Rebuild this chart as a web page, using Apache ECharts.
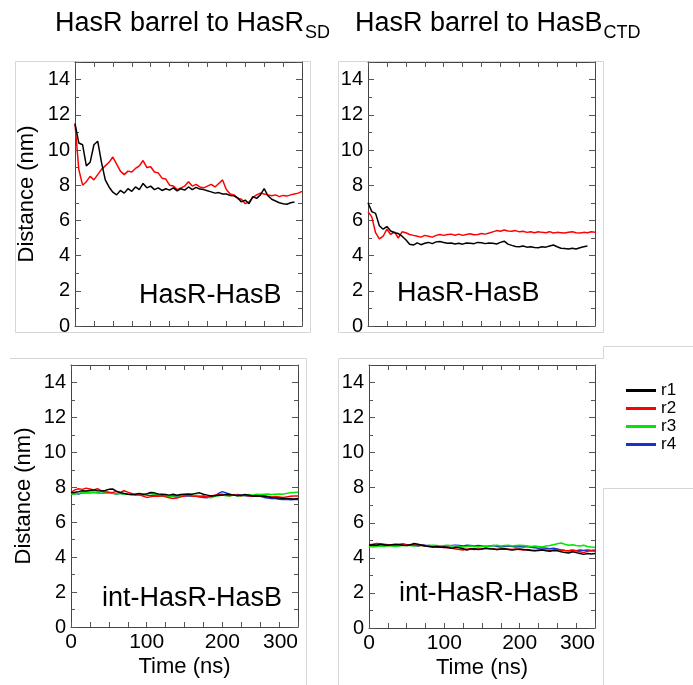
<!DOCTYPE html>
<html>
<head>
<meta charset="utf-8">
<script src="https://cdn.jsdelivr.net/npm/echarts@6/dist/echarts.min.js"></script>
<style>
html, body { margin: 0; padding: 0; background: #fff; }
#chart { width: 693px; height: 685px; }
</style>
</head>
<body>
<div id="chart"></div>
<script>
// time axis (ns), one point every 5 ns
const timeNs = [
  0, 5, 10, 15, 20, 25, 30, 35, 40, 45,
  50, 55, 60, 65, 70, 75, 80, 85, 90, 95,
  100, 105, 110, 115, 120, 125, 130, 135, 140, 145,
  150, 155, 160, 165, 170, 175, 180, 185, 190, 195,
  200, 205, 210, 215, 220, 225, 230, 235, 240, 245,
  250, 255, 260, 265, 270, 275, 280, 285, 290, 295,
  300
];

const runNames = ['r1', 'r2', 'r3', 'r4'];
const xTickLabels = [0, 100, 200, 300];

const panelTitles = ['HasR barrel to HasR', 'HasR barrel to HasB'];
const panelSubs = ['SD', 'CTD'];
const panelLabels = ['HasR-HasB', 'HasR-HasB', 'int-HasR-HasB', 'int-HasR-HasB'];

// HasR barrel to HasR_SD, HasR-HasB
const sdR1 = [
  11.5, 10.4, 10.3, 9.1, 9.3, 10.3, 10.5, 9.3, 8.3, 7.9,
  7.6, 7.45, 7.7, 7.55, 7.8, 7.65, 7.9, 7.75, 8.1, 7.85,
  7.95, 7.75, 7.85, 7.7, 7.8, 7.72, 7.85, 7.68, 7.8, 7.72,
  7.9, 7.75, 7.88, 7.78, 7.75, 7.68, 7.62, 7.55, 7.58, 7.5,
  7.5, 7.42, 7.4, 7.28, 7.05, 7.15, 6.95, 7.35, 7.25, 7.45,
  7.8, 7.4, 7.2, 7.1, 7.0, 6.95, 6.92, 7.0, 7.05, null,
  null
];
const sdR2 = [
  11.5, 8.9, 8.0, 8.2, 8.5, 8.3, 8.6, 8.9, 9.1, 9.3,
  9.6, 9.2, 8.8, 8.6, 8.8, 8.75, 8.95, 9.1, 9.4, 9.0,
  9.05, 8.75, 8.7, 8.4, 8.35, 8.0, 7.95, 7.75, 7.85, 7.95,
  8.2, 7.95, 8.05, 7.9, 7.85, 7.95, 8.05, 7.9, 8.1, 8.3,
  7.75, 7.5, 7.45, 7.25, 7.2, 6.95, 7.05, 7.3, 7.45, 7.55,
  7.5, 7.45, 7.4, 7.45, 7.35, 7.42, 7.38, 7.45, 7.5, 7.55,
  7.65
];

// HasR barrel to HasB_CTD, HasR-HasB
const ctdR1 = [
  7.0, 6.5, 6.4, 5.7, 5.5, 5.65, 5.4, 5.3, 5.25, 5.1,
  4.9, 4.65, 4.6, 4.72, 4.62, 4.7, 4.75, 4.68, 4.78, 4.8,
  4.75, 4.7, 4.72, 4.66, 4.7, 4.65, 4.72, 4.7, 4.68, 4.75,
  4.73, 4.68, 4.72, 4.7, 4.66, 4.75, 4.82, 4.65, 4.58, 4.52,
  4.5, 4.54, 4.48, 4.5, 4.46, 4.45, 4.5, 4.48, 4.55, 4.6,
  4.5, 4.42, 4.4, 4.38, 4.42, 4.38, 4.45, 4.5, 4.55, null,
  null
];
const ctdR2 = [
  6.5, 6.2, 5.3, 4.95, 5.1, 5.5, 5.2, 5.35, 5.0, 5.35,
  5.3, 5.2, 5.15, 5.1, 5.05, 5.15, 5.1, 5.05, 5.15, 5.2,
  5.15, 5.2, 5.22, 5.16, 5.22, 5.15, 5.2, 5.24, 5.18, 5.2,
  5.25, 5.22, 5.28, 5.35, 5.42, 5.38, 5.45, 5.4, 5.38, 5.42,
  5.35, 5.38, 5.32, 5.36, 5.3, 5.35, 5.32, 5.3, 5.36, 5.28,
  5.32, 5.3, 5.28, 5.33, 5.35, 5.3, 5.28, 5.32, 5.3, 5.35,
  5.33
];

// HasR barrel to HasR_SD, int-HasR-HasB
const intSdR1 = [
  7.70, 7.72, 7.75, 7.80, 7.78, 7.82, 7.85, 7.80, 7.78, 7.82,
  7.88, 7.90, 7.78, 7.70, 7.65, 7.60, 7.58, 7.60, 7.65, 7.60,
  7.62, 7.70, 7.68, 7.62, 7.60, 7.58, 7.55, 7.60, 7.55, 7.58,
  7.60, 7.62, 7.60, 7.65, 7.68, 7.60, 7.55, 7.50, 7.52, 7.55,
  7.55, 7.60, 7.58, 7.55, 7.52, 7.55, 7.58, 7.55, 7.50, 7.52,
  7.50, 7.48, 7.45, 7.42, 7.40, 7.38, 7.36, 7.35, 7.34, 7.33,
  7.35
];
const intSdR2 = [
  7.70, 7.85, 7.92, 7.88, 7.95, 7.90, 7.85, 7.92, 7.80, 7.75,
  7.72, 7.70, 7.75, 7.70, 7.80, 7.72, 7.65, 7.55, 7.58, 7.50,
  7.42, 7.45, 7.50, 7.48, 7.52, 7.45, 7.40, 7.35, 7.38, 7.45,
  7.50, 7.55, 7.50, 7.48, 7.45, 7.50, 7.45, 7.50, 7.55, 7.58,
  7.60, 7.55, 7.52, 7.58, 7.55, 7.52, 7.55, 7.50, 7.52, 7.48,
  7.50, 7.52, 7.48, 7.45, 7.47, 7.45, 7.42, 7.45, 7.48, 7.50,
  7.50
];
const intSdR3 = [
  7.60, 7.62, 7.65, 7.68, 7.70, 7.72, 7.70, 7.68, 7.65, 7.68,
  7.70, 7.65, 7.62, 7.65, 7.60, 7.62, 7.58, 7.55, 7.60, 7.58,
  7.62, 7.65, 7.60, 7.55, 7.50, 7.48, 7.50, 7.45, 7.42, 7.48,
  7.52, 7.55, 7.50, 7.55, 7.52, 7.48, 7.45, 7.40, 7.48, 7.52,
  7.55, 7.52, 7.50, 7.55, 7.52, 7.50, 7.55, 7.58, 7.55, 7.60,
  7.58, 7.60, 7.62, 7.58, 7.60, 7.62, 7.60, 7.65, 7.68, 7.70,
  7.72
];
const intSdR4 = [
  7.62, 7.65, 7.62, 7.68, 7.70, 7.68, 7.72, 7.68, 7.65, 7.68,
  7.70, 7.65, 7.62, 7.65, 7.62, 7.60, 7.58, 7.60, 7.55, 7.58,
  7.55, 7.52, 7.55, 7.50, 7.52, 7.50, 7.48, 7.50, 7.52, 7.50,
  7.52, 7.50, 7.48, 7.50, 7.45, 7.42, 7.40, 7.45, 7.50, 7.65,
  7.75, 7.68, 7.60, 7.55, 7.58, 7.55, 7.52, 7.50, 7.48, 7.50,
  7.48, 7.42, 7.38, 7.35, 7.36, 7.32, 7.30, 7.32, 7.28, 7.30,
  7.30
];

// HasR barrel to HasB_CTD, int-HasR-HasB
const intCtdR1 = [
  4.72, 4.75, 4.72, 4.78, 4.75, 4.72, 4.75, 4.78, 4.75, 4.72,
  4.70, 4.75, 4.82, 4.78, 4.72, 4.68, 4.65, 4.62, 4.65, 4.60,
  4.62, 4.58, 4.55, 4.60, 4.58, 4.52, 4.45, 4.50, 4.52, 4.48,
  4.50, 4.55, 4.52, 4.50, 4.48, 4.50, 4.52, 4.48, 4.45, 4.48,
  4.50, 4.48, 4.45, 4.42, 4.40, 4.42, 4.45, 4.40, 4.38, 4.42,
  4.40, 4.35, 4.30, 4.28, 4.35, 4.30, 4.25, 4.20, 4.25, 4.22,
  4.25
];
const intCtdR2 = [
  4.75, 4.78, 4.82, 4.80, 4.78, 4.75, 4.72, 4.75, 4.78, 4.80,
  4.75, 4.72, 4.75, 4.70, 4.72, 4.68, 4.65, 4.62, 4.60, 4.62,
  4.58, 4.60, 4.55, 4.50, 4.48, 4.45, 4.50, 4.52, 4.48, 4.50,
  4.52, 4.55, 4.52, 4.50, 4.48, 4.50, 4.52, 4.50, 4.48, 4.50,
  4.48, 4.45, 4.48, 4.45, 4.42, 4.45, 4.48, 4.45, 4.42, 4.45,
  4.48, 4.45, 4.42, 4.40, 4.45, 4.40, 4.35, 4.30, 4.38, 4.40,
  4.38
];
const intCtdR3 = [
  4.65, 4.62, 4.65, 4.68, 4.65, 4.70, 4.68, 4.65, 4.68, 4.70,
  4.72, 4.70, 4.68, 4.72, 4.70, 4.68, 4.70, 4.72, 4.70, 4.68,
  4.70, 4.72, 4.68, 4.70, 4.65, 4.62, 4.65, 4.68, 4.65, 4.62,
  4.65, 4.68, 4.65, 4.70, 4.72, 4.68, 4.70, 4.72, 4.68, 4.70,
  4.72, 4.70, 4.68, 4.65, 4.68, 4.65, 4.62, 4.68, 4.70, 4.75,
  4.80, 4.85, 4.78, 4.72, 4.75, 4.70, 4.68, 4.72, 4.65, 4.62,
  4.60
];
const intCtdR4 = [
  4.70, 4.72, 4.70, 4.75, 4.72, 4.70, 4.72, 4.75, 4.72, 4.75,
  4.75, 4.72, 4.70, 4.68, 4.75, 4.72, 4.70, 4.68, 4.65, 4.67,
  4.65, 4.68, 4.70, 4.72, 4.70, 4.68, 4.72, 4.70, 4.68, 4.70,
  4.68, 4.65, 4.68, 4.70, 4.65, 4.62, 4.65, 4.68, 4.65, 4.62,
  4.65, 4.62, 4.65, 4.60, 4.58, 4.55, 4.58, 4.55, 4.52, 4.55,
  4.50, 4.45, 4.42, 4.40, 4.42, 4.40, 4.45, 4.42, 4.45, 4.42,
  4.45
];

const panelData = [
  [sdR1, sdR2],
  [ctdR1, ctdR2],
  [intSdR1, intSdR2, intSdR3, intSdR4],
  [intCtdR1, intCtdR2, intCtdR3, intCtdR4]
];

const runColors = ['#000000', '#ff0000', '#00e600', '#1a2fd0'];
const FONT = '"Liberation Sans", Arial, Helvetica, sans-serif';

// plot boxes in pixels
const boxes = [
  { left: 75, top: 62, width: 227, height: 264 },
  { left: 368, top: 62, width: 227, height: 264 },
  { left: 71, top: 365, width: 227, height: 262 },
  { left: 369, top: 365, width: 226, height: 263 }
];

function makeXAxes(gi, bottomRow) {
  var base = {
    type: 'value', gridIndex: gi, min: 0, max: 300, interval: 25,
    axisLine: { show: true, onZero: false, lineStyle: { color: '#444', width: 1 } },
    axisTick: { show: true, inside: true, length: 5, lineStyle: { color: '#555' } },
    splitLine: { show: false }
  };
  var bottom = Object.assign({}, base, {
    position: 'bottom',
    axisLabel: {
      show: bottomRow, margin: 5, fontSize: 21, color: '#000', fontFamily: FONT,
      alignMaxLabel: 'right',
      formatter: function (v) { return xTickLabels.indexOf(v) >= 0 ? String(v) : ''; }
    },
    name: bottomRow ? 'Time (ns)' : '',
    nameLocation: 'middle', nameGap: 29,
    nameTextStyle: { fontSize: 22, color: '#000', fontFamily: FONT }
  });
  var top = Object.assign({}, base, { position: 'top', axisLabel: { show: false } });
  return [bottom, top];
}

function makeYAxes(gi, leftCol) {
  var base = {
    type: 'value', gridIndex: gi, min: 0, max: 15, interval: 2,
    axisLine: { show: true, onZero: false, lineStyle: { color: '#444', width: 1 } },
    axisTick: { show: true, inside: true, length: 6, lineStyle: { color: '#555' } },
    minorTick: { show: true, splitNumber: 2, length: 4, lineStyle: { color: '#555' } },
    splitLine: { show: false },
    minorSplitLine: { show: false }
  };
  var left = Object.assign({}, base, {
    position: 'left',
    axisLabel: { margin: 5, fontSize: 20, color: '#000', fontFamily: FONT, showMaxLabel: false },
    name: leftCol ? 'Distance (nm)' : '',
    nameLocation: 'middle', nameGap: gi === 0 ? 37 : 36,
    nameTextStyle: { fontSize: 22, color: '#000', fontFamily: FONT }
  });
  var right = Object.assign({}, base, { position: 'right', axisLabel: { show: false } });
  return [left, right];
}

var grids = [], xAxes = [], yAxes = [], series = [];
boxes.forEach(function (b, gi) {
  grids.push(Object.assign({ outerBoundsMode: 'none', containLabel: false }, b));
  xAxes = xAxes.concat(makeXAxes(gi, gi >= 2));
  yAxes = yAxes.concat(makeYAxes(gi, gi % 2 === 0));
  panelData[gi].forEach(function (vals, ri) {
    series.push({
      name: runNames[ri],
      type: 'line',
      xAxisIndex: gi * 2,
      yAxisIndex: gi * 2,
      showSymbol: false,
      symbol: 'none',
      lineStyle: { width: 1.5, color: runColors[ri] },
      itemStyle: { color: runColors[ri] },
      data: timeNs.map(function (t, i) { return [t, vals[i]]; }),
      z: 10 - ri
    });
  });
});

// text width helper for the subscript titles
var mctx = document.createElement('canvas').getContext('2d');
function textWidth(str, size) {
  mctx.font = size + 'px ' + FONT;
  return mctx.measureText(str).width;
}

var graphics = [];
var titleLeft = [55, 355];
panelTitles.forEach(function (t, i) {
  var w = textWidth(t, 27);
  graphics.push({ type: 'text', left: titleLeft[i], top: 10, silent: true,
    style: { text: t, font: '27px ' + FONT, fill: '#000' } });
  graphics.push({ type: 'text', left: titleLeft[i] + w + 1, top: 24, silent: true,
    style: { text: panelSubs[i], font: '18px ' + FONT, fill: '#000' } });
});

// panel labels
var labelPos = [[139, 305], [397, 303], [102, 608], [399, 603]];
panelLabels.forEach(function (t, i) {
  graphics.push({ type: 'text', x: labelPos[i][0], y: labelPos[i][1] - 9.5, silent: true,
    style: { text: t, font: '27px ' + FONT, fill: '#000', verticalAlign: 'middle', align: 'left' } });
});

// light frames from the original figure panels
var frameLines = [
  [15.5, 61.5, 310.5, 61.5], [15.5, 61.5, 15.5, 332.5], [310.5, 61.5, 310.5, 332.5], [15.5, 332.5, 310.5, 332.5],
  [338.5, 61.5, 603.5, 61.5], [338.5, 61.5, 338.5, 332.5], [603.5, 61.5, 603.5, 332.5], [338.5, 332.5, 603.5, 332.5],
  [603.5, 346.5, 693, 346.5], [603.5, 346.5, 603.5, 358.5],
  [338.5, 358.5, 603.5, 358.5], [338.5, 358.5, 338.5, 685],
  [603.5, 488.5, 693, 488.5], [603.5, 488.5, 603.5, 685],
  [10, 358.5, 306.5, 358.5], [306.5, 358.5, 306.5, 685]
];
frameLines.forEach(function (l) {
  graphics.push({ type: 'line', silent: true, z: -1,
    shape: { x1: l[0], y1: l[1], x2: l[2], y2: l[3] },
    style: { stroke: '#d6d6d6', lineWidth: 1 } });
});

var option = {
  animation: false,
  backgroundColor: '#fff',
  textStyle: { fontFamily: FONT },
  grid: grids,
  xAxis: xAxes,
  yAxis: yAxes,
  legend: {
    data: runNames,
    orient: 'vertical',
    left: 626, top: 382,
    padding: 0,
    itemWidth: 30, itemHeight: 3, itemGap: 1,
    icon: 'rect',
    textStyle: { fontSize: 17, lineHeight: 16, color: '#000', fontFamily: FONT }
  },
  series: series,
  graphic: graphics
};

var myChart = echarts.init(document.getElementById('chart'), null, { renderer: 'canvas' });
myChart.setOption(option);
</script>
</body>
</html>
